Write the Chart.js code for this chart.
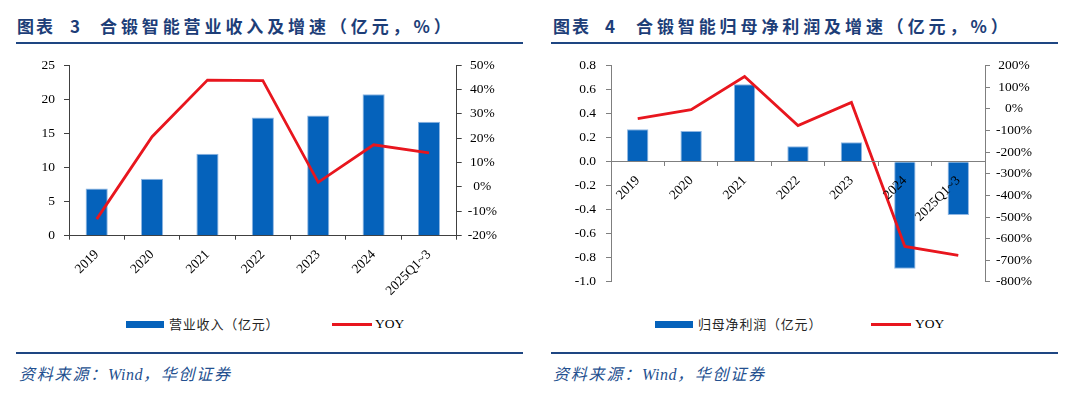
<!DOCTYPE html>
<html>
<head>
<meta charset="utf-8">
<script src="https://cdn.jsdelivr.net/npm/chart.js@4.4.1/dist/chart.umd.min.js"></script>
<style>
  html, body { margin: 0; padding: 0; background: #fff; }
  body { width: 1080px; height: 396px; position: relative; overflow: hidden; }
  .abs { position: absolute; white-space: nowrap; }
  .title { font-family: "Noto Sans CJK SC", sans-serif; font-weight: 700; font-size: 17px; color: #1d3e78; line-height: 20px; }
  .rule { position: absolute; height: 2px; background: #1e4682; }
  .src { font-family: "Noto Sans CJK SC", sans-serif; font-style: italic; font-size: 16px; letter-spacing: 1.8px; color: #24508f; line-height: 20px; }
  .src i { font-family: "Liberation Serif", serif; font-style: italic; letter-spacing: 0.5px; }
  .lgtxt { font-family: "Noto Sans CJK SC", sans-serif; font-size: 13px; letter-spacing: 0.8px; color: #262626; line-height: 16px; }
  .lgyoy { font-family: "Liberation Serif", serif; font-size: 13.5px; color: #000; line-height: 16px; }
  canvas { position: absolute; top: 0; }
</style>
</head>
<body>
<!-- Left panel header -->
<div class="abs title" style="left:17px;top:16px;letter-spacing:2px;">图表</div>
<div class="abs title" style="left:70px;top:16px;">3</div>
<div class="abs title" style="left:100px;top:16px;letter-spacing:3.9px;">合锻智能营业收入及增速（亿元，%）</div>
<div class="rule" style="left:16px;top:42px;width:507px;"></div>
<!-- Right panel header -->
<div class="abs title" style="left:553px;top:16px;letter-spacing:2px;">图表</div>
<div class="abs title" style="left:605px;top:16px;">4</div>
<div class="abs title" style="left:636px;top:16px;letter-spacing:3.9px;">合锻智能归母净利润及增速（亿元，%）</div>
<div class="rule" style="left:551px;top:42px;width:507px;"></div>

<canvas id="c1" width="540" height="300" style="left:0px;"></canvas>
<canvas id="c2" width="540" height="300" style="left:540px;"></canvas>

<!-- Legends -->
<div class="abs" style="left:126px;top:321px;width:38px;height:7px;background:#0562bb;"></div>
<div class="abs lgtxt" style="left:169px;top:316px;">营业收入（亿元）</div>
<div class="abs" style="left:332px;top:323px;width:40px;height:3px;background:#e8161e;"></div>
<div class="abs lgyoy" style="left:375px;top:316px;">YOY</div>

<div class="abs" style="left:655px;top:321px;width:38px;height:7px;background:#0562bb;"></div>
<div class="abs lgtxt" style="left:698px;top:316px;">归母净利润（亿元）</div>
<div class="abs" style="left:871px;top:323px;width:40px;height:3px;background:#e8161e;"></div>
<div class="abs lgyoy" style="left:915px;top:316px;">YOY</div>

<!-- Footers -->
<div class="rule" style="left:16px;top:352px;width:507px;"></div>
<div class="abs src" style="left:19px;top:363px;">资料来源：<i>Wind</i>，华创证券</div>
<div class="rule" style="left:551px;top:352px;width:507px;"></div>
<div class="abs src" style="left:553px;top:363px;">资料来源：<i>Wind</i>，华创证券</div>

<script>
// ---------- data ----------
const categories = ['2019', '2020', '2021', '2022', '2023', '2024', '2025Q1~3'];
const revenue = [6.9, 8.35, 12.0, 17.3, 17.6, 20.7, 16.7];          // 亿元
const revenueYoy = [-13.2, 20.6, 43.8, 43.6, 1.9, 17.3, 14.0];       // %
const netProfit = [0.27, 0.257, 0.645, 0.13, 0.162, -0.89, -0.444];  // 亿元
const netProfitYoy = [-45, -3, 150, -77, 30, -636, -677];            // %
const revenueTicks = { min: 0, max: 25, step: 5 };
const revenueYoyTicks = { min: -20, max: 50, step: 10 };
const profitTicks = { min: -1.0, max: 0.8, step: 0.2 };
const profitYoyTicks = { min: -800, max: 200, step: 100 };

// ---------- styles ----------
const BAR = '#0562bb';
const BAR_EDGE = '#8fb6e2';
const RED = '#e8161e';
const tickFont = { family: 'Liberation Serif', size: 13.5 };

function yAxis(cfg, opts) {
  return {
    type: 'linear',
    position: opts.position,
    min: cfg.min, max: cfg.max,
    afterFit: s => { s.width = opts.width; },
    grid: { drawOnChartArea: false, drawTicks: true, tickLength: 5, tickColor: opts.axisColor, color: opts.axisColor },
    border: { display: true, color: opts.axisColor, width: 1 },
    ticks: {
      stepSize: cfg.step, font: tickFont, color: '#000', padding: opts.padding,
      crossAlign: opts.crossAlign || 'near', autoSkip: false,
      callback: opts.fmt
    }
  };
}

function makeChart(id, bars, yoy, yCfg, y1Cfg, L) {
  return new Chart(document.getElementById(id), {
    data: {
      labels: categories,
      datasets: [
        { type: 'line', data: yoy, yAxisID: 'y1', order: 0,
          borderColor: RED, borderWidth: 2.8, pointRadius: 0, pointHoverRadius: 0,
          tension: 0, fill: false },
        { type: 'bar', data: bars, yAxisID: 'y', order: 1,
          backgroundColor: BAR, borderColor: BAR_EDGE, borderWidth: 1,
          barPercentage: 0.4, categoryPercentage: 1.0 }
      ]
    },
    options: {
      responsive: false, animation: false,
      layout: { padding: { top: L.top, bottom: L.bottom, left: 0, right: 0 } },
      plugins: { legend: { display: false }, tooltip: { enabled: false } },
      scales: {
        x: {
          type: 'category', axis: 'x', position: L.xPos,
          afterFit: s => { s.height = L.xHeight; },
          offset: true,
          grid: { offset: true, drawOnChartArea: false, drawTicks: true, tickLength: 4, tickColor: L.axisColor, color: L.axisColor, z: L.xz },
          border: { display: true, color: L.axisColor, width: 1, z: L.xz },
          ticks: { font: tickFont, color: '#000', minRotation: 45, maxRotation: 45, padding: 7, autoSkip: false, z: L.xz }
        },
        y: yAxis(yCfg, { position: 'left', width: L.yWidth, axisColor: L.axisColor, padding: L.yPad, fmt: L.yFmt }),
        y1: yAxis(y1Cfg, { position: 'right', width: L.y1Width, axisColor: L.axisColor, padding: 6, crossAlign: 'center', fmt: v => v + '%' })
      }
    }
  });
}

makeChart('c1', revenue, revenueYoy, revenueTicks, revenueYoyTicks, {
  top: 65, bottom: 0, xPos: 'bottom', xz: 0, xHeight: 64.3,
  yWidth: 69, y1Width: 83.3, axisColor: '#404040', yPad: 9,
  yFmt: v => String(v)
});

makeChart('c2', netProfit, netProfitYoy, profitTicks, profitYoyTicks, {
  top: 65.7, bottom: 12.7, xPos: { y: 0 }, xz: 1, xHeight: 0,
  yWidth: 71, y1Width: 95, axisColor: '#7f7f7f', yPad: 10,
  yFmt: v => Number(v).toFixed(1)
});
</script>
</body>
</html>
